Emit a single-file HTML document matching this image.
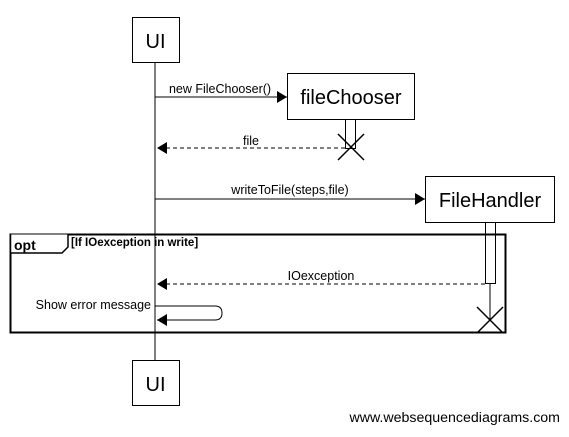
<!DOCTYPE html><html><head><style>body{margin:0;background:#fff}</style></head><body>
<svg width="569" height="432" xmlns="http://www.w3.org/2000/svg" font-family="Liberation Sans, sans-serif">
<defs>
<marker id="a" markerWidth="10" markerHeight="12" refX="10" refY="6" orient="auto" markerUnits="userSpaceOnUse"><path d="M0,0L10,6L0,12z" fill="#000"/></marker>
</defs>
<g stroke="#000" fill="none" stroke-width="1">
<line x1="155" y1="62" x2="155" y2="360"/>
<rect x="132.5" y="17.5" width="47" height="45" fill="#fff"/>
<rect x="132.5" y="360.5" width="47" height="45" fill="#fff"/>
<rect x="287.5" y="73.5" width="127" height="46" fill="#fff"/>
<rect x="345.5" y="119.5" width="10" height="29" fill="#fff"/>
<path d="M338,134L364,160M364,134L338,160" stroke-width="1.5"/>
<rect x="425.5" y="176.5" width="129" height="46" fill="#fff"/>
<line x1="490" y1="283" x2="490" y2="320"/>
<rect x="485.5" y="222.5" width="10" height="61" fill="#fff"/>
<path d="M477,307L503,333M503,307L477,333" stroke-width="1.5"/>
<rect x="10.5" y="234.5" width="495" height="98" stroke-width="2"/>
<path d="M10.5,234.5V253H62L68,247V234.5" fill="#fff" stroke-width="1.5"/>
<line x1="155" y1="97" x2="287" y2="97" marker-end="url(#a)"/>
<line x1="345" y1="148" x2="157" y2="148" stroke-dasharray="4,3" marker-end="url(#a)"/>
<line x1="155" y1="199" x2="425" y2="199" marker-end="url(#a)"/>
<line x1="485" y1="284" x2="157" y2="284" stroke-dasharray="4,3" marker-end="url(#a)"/>
<path d="M155,306H215Q222,306 222,313Q222,320 215,320H157" marker-end="url(#a)"/>
</g>
<g font-size="12.5" fill="#000">
<text x="155.5" y="48" font-size="20" text-anchor="middle">UI</text>
<text x="155.5" y="391" font-size="20" text-anchor="middle">UI</text>
<text x="351" y="104" font-size="20" text-anchor="middle">fileChooser</text>
<text x="490" y="207" font-size="20" text-anchor="middle">FileHandler</text>
<text x="220" y="93" text-anchor="middle">new FileChooser()</text>
<text x="251" y="145" text-anchor="middle">file</text>
<text x="290" y="194" text-anchor="middle">writeToFile(steps,file)</text>
<text x="321" y="280" text-anchor="middle">IOexception</text>
<text x="151" y="309" text-anchor="end">Show error message</text>
<text x="14" y="250" font-size="14" font-weight="bold">opt</text>
<text x="71" y="246" font-size="11.5" font-weight="bold">[If IOexception in write]</text>
<text x="560" y="422" font-size="14.2" text-anchor="end">www.websequencediagrams.com</text>
</g>
</svg></body></html>
